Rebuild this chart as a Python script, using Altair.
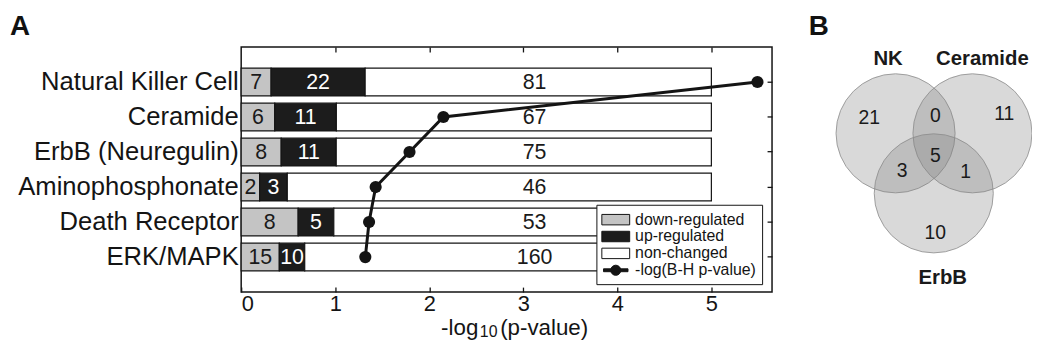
import altair as alt
import pandas as pd

# ---------------- data ----------------
pathways = ["Natural Killer Cell", "Ceramide", "ErbB (Neuregulin)",
            "Aminophosphonate", "Death Receptor", "ERK/MAPK"]
down_counts = [7, 6, 8, 2, 8, 15]
up_counts = [22, 11, 11, 3, 5, 10]
unchanged_counts = [81, 67, 75, 46, 53, 160]
neg_log_p = [5.49, 2.15, 1.79, 1.43, 1.36, 1.32]
segments = ["down-regulated", "up-regulated", "non-changed"]
line_entry = "-log(B-H p-value)"
x_ticks = [0, 1, 2, 3, 4, 5]
x_title_parts = ["-log", "10", "(p-value)"]

venn_sets = ["NK", "Ceramide", "ErbB"]
venn_cx = [39.75, 78.5, 59.0]
venn_cy = [43.5, 43.5, 73.75]
venn_label_x = [36.0, 83.5, 63.5]
venn_label_y = [6.0, 6.0, 116.5]
venn_counts = [21, 0, 11, 5, 3, 1, 10]
venn_count_x = [26.5, 59.75, 94.5, 59.75, 43.0, 75.0, 59.75]
venn_count_y = [35.75, 34.9, 34.0, 54.9, 62.75, 63.25, 94.0]

# ---------------- style ----------------
FONT = "Liberation Sans"
INK = "#141414"
seg_colors = ["#c4c4c4", "#1c1c1c", "#ffffff"]
seg_text_colors = ["#1a1a1a", "#ffffff", "#1a1a1a"]
BAR_SPAN = 5.0          # every bar is drawn as proportions of 0..5
UNCHANGED_LABEL_X = 3.12
rect_path = "M-1.12,-0.62H2.18V0.62H-1.12Z"
line_path = ("M-0.92,-0.17H1.98V0.17H-0.92Z "
             "M1.13,0A0.6,0.6,0,1,1,-0.07,0A0.6,0.6,0,1,1,1.13,0Z")

# ---------------- tables ----------------
rows = []
for i, p in enumerate(pathways):
    counts = [down_counts[i], up_counts[i], unchanged_counts[i]]
    total = sum(counts)
    start = 0.0
    for j, s in enumerate(segments):
        w = counts[j] / total * BAR_SPAN
        rows.append(dict(pathway=p, seg=s, segidx=j, count=counts[j],
                         x0=start, x1=start + w,
                         lx=(start + w / 2) if j < 2 else UNCHANGED_LABEL_X))
        start += w
bar_df = pd.DataFrame(rows)
line_df = pd.DataFrame({"pathway": pathways, "p": neg_log_p, "idx": range(len(pathways))})
legend_entries = segments + [line_entry]
legend_df = pd.DataFrame({"entry": legend_entries})

venn_df = pd.DataFrame({"set": venn_sets, "cx": venn_cx, "cy": venn_cy,
                        "lx": venn_label_x, "ly": venn_label_y})
venn_num_df = pd.DataFrame({"n": venn_counts, "x": venn_count_x, "y": venn_count_y})

# ---------------- scales ----------------
xscale = alt.Scale(domain=[0, 5.645], nice=False, zero=False)
yscale = alt.Scale(domain=pathways, paddingInner=0.207, paddingOuter=0.603)
vx = alt.Scale(domain=[0, 100], range=[580, 780], nice=False, zero=False)
vy = alt.Scale(domain=[0, 100], range=[0, 200], nice=False, zero=False)

bottom_axis = alt.Axis(orient="bottom", values=x_ticks, offset=-5, tickSize=5,
                       domain=False, grid=False, labelFontSize=22, labelPadding=2,
                       labelColor=INK, tickColor=INK, tickWidth=1.3, title=None)
top_axis = alt.Axis(orient="top", values=[1, 2, 3, 4, 5], offset=-5, tickSize=5,
                    domain=False, grid=False, labels=False, title=None,
                    tickColor=INK, tickWidth=1.3)
left_axis = alt.Axis(orient="left", ticks=False, tickSize=0, domain=False, grid=False,
                     labelFontSize=25.8, labelPadding=3, labelColor=INK, title=None,
                     labelLimit=400)
right_axis = alt.Axis(orient="right", offset=-5, tickSize=5, domain=False, grid=False,
                      labels=False, title=None, tickColor=INK, tickWidth=1.3)

# ---------------- panel A ----------------
bars = alt.Chart(bar_df).mark_bar(stroke=INK, strokeWidth=1.2).encode(
    x=alt.X("x0:Q", scale=xscale, axis=bottom_axis),
    x2="x1:Q",
    y=alt.Y("pathway:N", scale=yscale, sort=pathways, axis=left_axis),
    fill=alt.Fill("seg:N", scale=alt.Scale(domain=segments, range=seg_colors), legend=None),
)
bar_text = alt.Chart(bar_df).mark_text(fontSize=21.5, baseline="middle", align="center", dy=1).encode(
    x=alt.X("lx:Q", scale=xscale, axis=None),
    y=alt.Y("pathway:N", scale=yscale, sort=pathways, axis=None),
    text="count:Q",
    color=alt.Color("seg:N", scale=alt.Scale(domain=segments, range=seg_text_colors), legend=None),
)
line = alt.Chart(line_df).mark_line(color=INK, strokeWidth=3).encode(
    x=alt.X("p:Q", scale=xscale, axis=top_axis),
    y=alt.Y("pathway:N", scale=yscale, sort=pathways, axis=None),
    order="idx:Q",
)
points = alt.Chart(line_df).mark_circle(size=150, color=INK, opacity=1).encode(
    x=alt.X("p:Q", scale=xscale, axis=None),
    y=alt.Y("pathway:N", scale=yscale, sort=pathways, axis=right_axis),
)
legend_layer = alt.Chart(legend_df).transform_filter("false").mark_point(
    filled=True, opacity=1, stroke=INK, strokeWidth=1
).encode(
    fill=alt.Fill("entry:N",
                  scale=alt.Scale(domain=legend_entries, range=seg_colors + [INK]),
                  legend=alt.Legend(orient="none", legendX=358, legendY=159, title=None,
                                    strokeColor=INK, fillColor="white", padding=6,
                                    labelFontSize=16, labelColor=INK, labelLimit=300,
                                    symbolSize=289, symbolStrokeColor=INK,
                                    symbolStrokeWidth=1, rowPadding=0, labelOffset=15)),
    shape=alt.Shape("entry:N",
                    scale=alt.Scale(domain=legend_entries,
                                    range=[rect_path, rect_path, rect_path, line_path])),
)

panel_a = alt.layer(bars, bar_text, line, points, legend_layer).resolve_axis(
    x="independent", y="independent"
).resolve_scale(fill="independent", color="independent", shape="independent")

# x-axis title with a real subscript (three text pieces)
title_style = dict(color=INK, align="left", baseline="alphabetic")
t1 = alt.Chart(pd.DataFrame({"t": [x_title_parts[0]]})).mark_text(fontSize=22.5, **title_style).encode(
    x=alt.value(201.5), y=alt.value(290.5), text="t:N")
t2 = alt.Chart(pd.DataFrame({"t": [x_title_parts[1]]})).mark_text(fontSize=16, **title_style).encode(
    x=alt.value(240.5), y=alt.value(292.5), text="t:N")
t3 = alt.Chart(pd.DataFrame({"t": [x_title_parts[2]]})).mark_text(fontSize=22.5, **title_style).encode(
    x=alt.value(261), y=alt.value(290.5), text="t:N")

# ---------------- panel B ----------------
circles = alt.Chart(venn_df).mark_circle(
    size=14400, fill="#808080", fillOpacity=0.3, opacity=1,
    stroke="#8c8c8c", strokeWidth=0.9, strokeOpacity=0.9
).encode(
    x=alt.X("cx:Q", scale=vx, axis=None),
    y=alt.Y("cy:Q", scale=vy, axis=None),
)
venn_numbers = alt.Chart(venn_num_df).mark_text(
    fontSize=19.5, color="#1a1a1a", baseline="middle", align="center"
).encode(
    x=alt.X("x:Q", scale=vx, axis=None),
    y=alt.Y("y:Q", scale=vy, axis=None),
    text="n:Q",
)
venn_labels = alt.Chart(venn_df).mark_text(
    fontSize=20.5, fontWeight="bold", color="#1a1a1a", baseline="middle", align="center"
).encode(
    x=alt.X("lx:Q", scale=vx, axis=None),
    y=alt.Y("ly:Q", scale=vy, axis=None),
    text="set:N",
)

letter_style = dict(fontSize=28, fontWeight="bold", color="#111", align="left", baseline="alphabetic")
letter_a = alt.Chart(pd.DataFrame({"t": ["A"]})).mark_text(**letter_style).encode(
    x=alt.value(-233), y=alt.value(-12), text="t:N")
letter_b = alt.Chart(pd.DataFrame({"t": ["B"]})).mark_text(**letter_style).encode(
    x=alt.value(572), y=alt.value(-12), text="t:N")

chart = alt.layer(panel_a, t1, t2, t3, circles, venn_numbers, venn_labels,
                  letter_a, letter_b).resolve_scale(
    x="independent", y="independent"
).properties(
    width=535, height=247,
    autosize=alt.AutoSizeParams(type="none"),
    padding={"left": 235, "top": 38, "right": 262, "bottom": 49},
).configure(font=FONT).configure_view(stroke=INK, strokeWidth=1.5).configure_axis(grid=False)

chart.save("out.html", embed_options={"renderer": "svg", "actions": False})
